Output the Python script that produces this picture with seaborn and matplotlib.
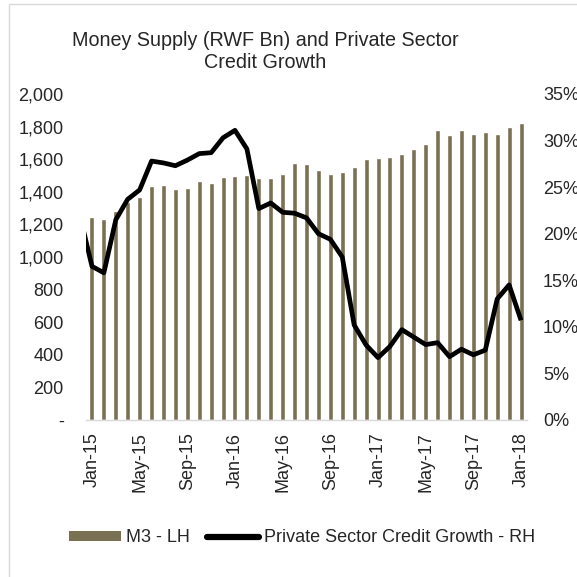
import matplotlib
matplotlib.use("Agg")
import matplotlib.pyplot as plt
from matplotlib.patches import Patch, Rectangle
from matplotlib.lines import Line2D
from matplotlib.ticker import FuncFormatter, FixedLocator
import numpy as np
import pandas as pd
import seaborn as sns

# Monthly categories, Jan-15 .. Jan-18
months = pd.date_range("2015-01-01", "2018-01-01", freq="MS").strftime("%b-%y").tolist()

# Broad money M3 (RWF Bn), left axis
m3 = [1245, 1235, 1280, 1340, 1370, 1436, 1442, 1419, 1425, 1466,
      1452, 1489, 1497, 1503, 1487, 1487, 1507, 1579, 1568, 1534,
      1507, 1524, 1550, 1599, 1605, 1611, 1630, 1663, 1691, 1779,
      1748, 1779, 1757, 1769, 1755, 1796, 1824]

# Private sector credit growth (%), right axis; series begins Dec-14
growth_months = ["Dec-14"] + months
growth = [21.9, 16.5, 15.8, 21.5, 23.7, 24.7, 27.8, 27.6, 27.3, 27.9,
          28.6, 28.7, 30.3, 31.1, 29.1, 22.7, 23.3, 22.3, 22.2, 21.7,
          20.0, 19.4, 17.5, 10.2, 8.05, 6.7, 7.9, 9.7, 8.9, 8.1,
          8.3, 6.8, 7.6, 7.0, 7.5, 13.0, 14.5, 10.7]

title = "Money Supply (RWF Bn) and Private Sector\nCredit Growth"
bar_label = "M3 - LH"
line_label = "Private Sector Credit Growth - RH"

sns.set_style("white")
plt.rcParams["font.family"] = ["Liberation Sans", "DejaVu Sans"]

bar_color = "#7a7154"
axis_grey = "#d9d9d9"
fs = 13

fig = plt.figure(figsize=(5.77, 5.77), dpi=100)
ax = fig.add_axes([86 / 577, 1 - 420 / 577, 441 / 577, 326 / 577])

sns.barplot(x=months, y=m3, ax=ax, color=bar_color, saturation=1, width=0.42)
ax.set_ylim(0, 2000)
ax.yaxis.set_major_locator(FixedLocator(np.arange(0, 2001, 200)))
ax.yaxis.set_major_formatter(FuncFormatter(lambda v, p: "-" if v == 0 else f"{v:,.0f}"))
ax.set_xlabel("")
ax.set_ylabel("")

# twin axis for the growth line
ax2 = ax.twinx()
line_pos = np.arange(-1, len(months))
sns.lineplot(x=line_pos, y=growth, ax=ax2, color="black", linewidth=3.4,
             solid_joinstyle="round", solid_capstyle="butt")
ax2.set_ylim(0, 35)
ax2.yaxis.set_major_locator(FixedLocator(np.arange(0, 36, 5)))
ax2.yaxis.set_major_formatter(FuncFormatter(lambda v, p: f"{v:.0f}%"))
ax2.set_ylabel("")
ax.set_xlim(-0.5, len(months) - 0.5)

# x ticks: labels every 4 months at bar centres, marks on category boundaries
label_idx = np.arange(0, len(months), 4)
ax.set_xticks(label_idx)
ax.set_xticklabels([months[i] for i in label_idx], rotation=90, fontsize=fs)
ax.set_xticks(label_idx - 0.5, minor=True)
ax.tick_params(axis="x", which="major", length=0, pad=9)
ax.tick_params(axis="x", which="minor", length=5, width=1, color=axis_grey)
ax.tick_params(axis="y", length=0, pad=16, labelsize=fs)
ax2.tick_params(axis="y", length=0, pad=11.5, labelsize=fs)

for a in (ax, ax2):
    for s in ("left", "right", "top"):
        a.spines[s].set_visible(False)
ax2.spines["bottom"].set_visible(False)
ax.spines["bottom"].set_color(axis_grey)
ax.spines["bottom"].set_linewidth(1)

fig.text(265 / 577, 1 - 51.5 / 577, title, ha="center", va="center",
         fontsize=14.2, linespacing=1.15)

handles = [Patch(facecolor=bar_color, edgecolor="none"),
           Line2D([], [], color="black", linewidth=4.5, solid_capstyle="round")]
fig.legend(handles, [bar_label, line_label], loc="center",
           bbox_to_anchor=(302 / 577, 1 - 538 / 577), ncol=2, frameon=False,
           fontsize=fs, handlelength=2.9, handleheight=0.5,
           handletextpad=0.3, columnspacing=0.9)

# chart frame
fig.add_artist(Rectangle((9 / 577, -0.05), 1.1, 1.05 - 4 / 577,
                         transform=fig.transFigure, fill=False,
                         edgecolor=axis_grey, linewidth=1))

fig.savefig("out.png", dpi=100, facecolor="white")
